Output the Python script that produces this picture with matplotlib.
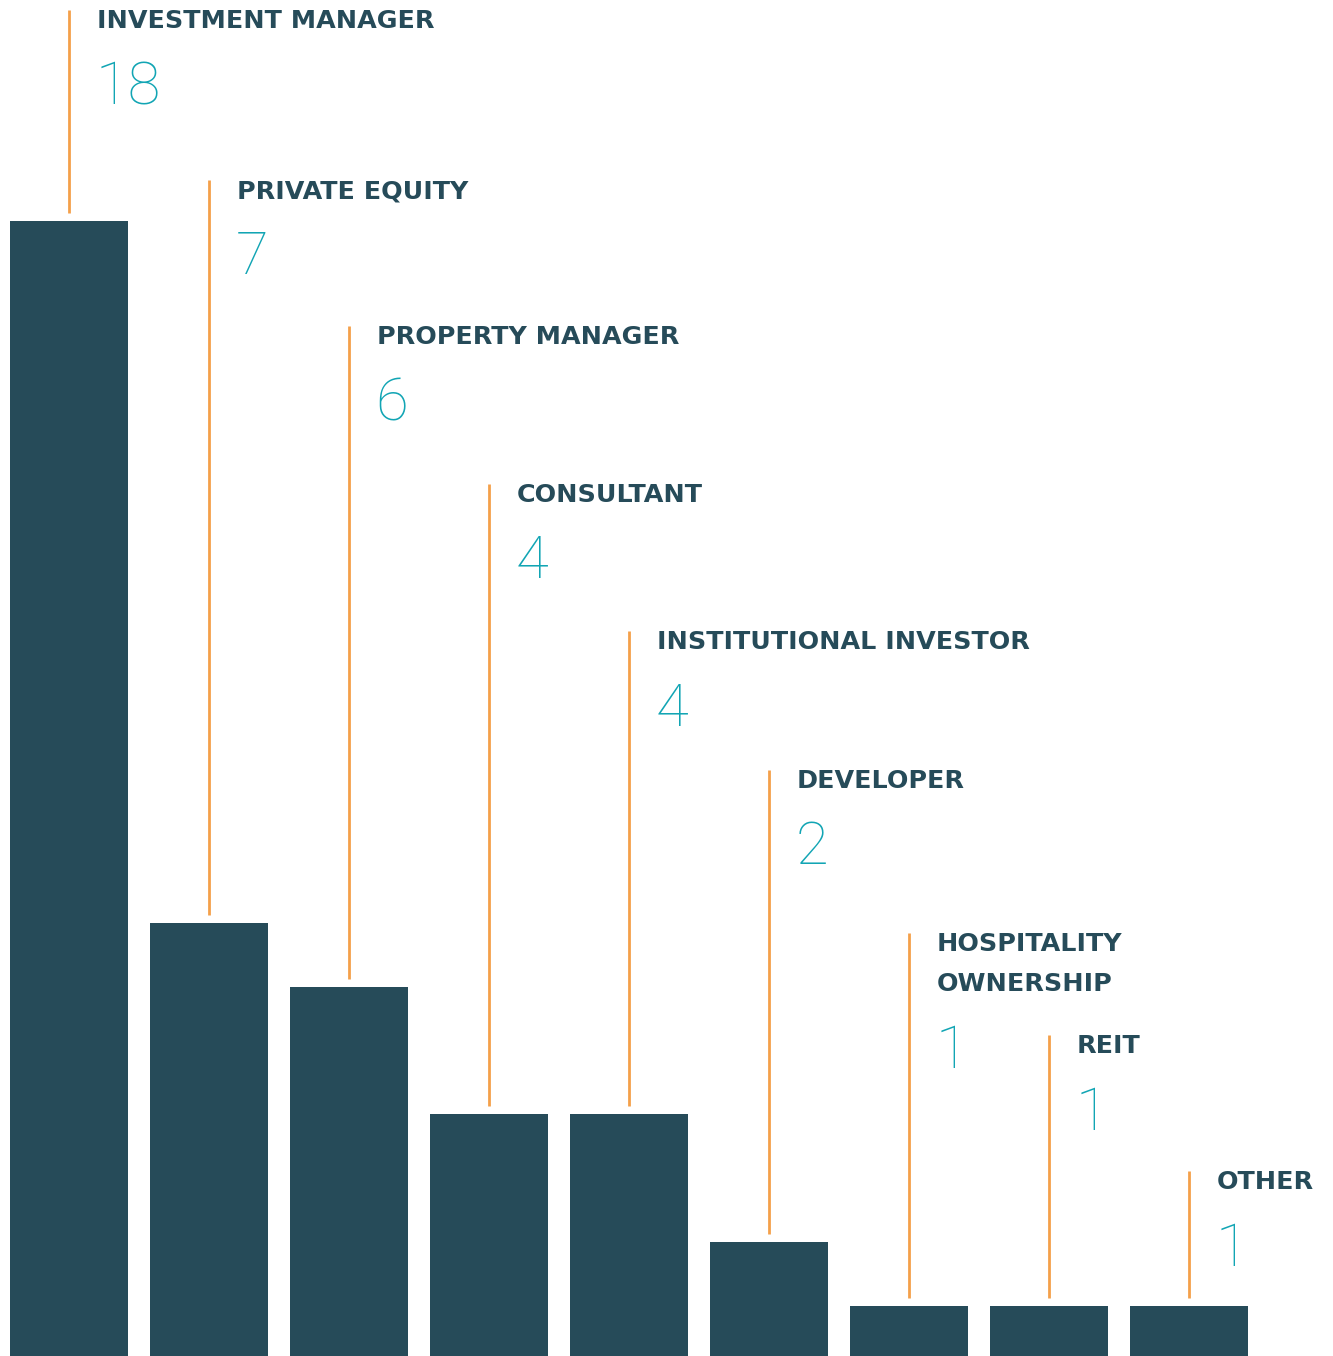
import matplotlib
matplotlib.use("Agg")
import matplotlib.pyplot as plt

# data
categories = ["INVESTMENT MANAGER", "PRIVATE EQUITY", "PROPERTY MANAGER", "CONSULTANT",
              "INSTITUTIONAL INVESTOR", "DEVELOPER", "HOSPITALITY\nOWNERSHIP", "REIT", "OTHER"]
counts = [18, 7, 6, 4, 4, 2, 1, 1, 1]

# layout: top of each leader line / label, in pixels from the top of the image
label_top_px = [10, 180, 326, 484, 631, 770, 933, 1035, 1171]

W, H = 1333, 1356
BAR = "#264B59"
ORANGE = "#F4A04A"
TEAL = "#12A5B4"

fig = plt.figure(figsize=(W / 100, H / 100), dpi=100)
ax = fig.add_axes([0, 0, 1, 1])

px_per_unit = 63.8
ymax = 18 + 221 / px_per_unit
ymin = ymax - H / px_per_unit
ax.set_ylim(ymin, ymax)
ax.set_xlim(-69 / 140, (W - 69) / 140)
ax.axis("off")

x = list(range(len(counts)))
ax.bar(x, counts, width=118 / 140, bottom=0, color=BAR, zorder=2)

gap = 8 / px_per_unit
for i, (name, v, top) in enumerate(zip(categories, counts, label_top_px)):
    y_top = ymax - top / px_per_unit
    ax.vlines(i, v + gap, y_top, color=ORANGE, lw=2, zorder=1)
    ax.text(i + 0.2, y_top + 0.01, name, ha="left", va="top", fontsize=18.3,
            fontweight="bold", color=BAR, family="DejaVu Sans", linespacing=1.8)
    nlines = name.count("\n")
    ny = y_top - (50 + 40 * nlines) / px_per_unit
    ax.text(i + 0.19, ny, str(v), ha="left", va="top", fontsize=43,
            fontweight="light", color=TEAL, family="Roboto")

fig.savefig("out.png", dpi=100)
